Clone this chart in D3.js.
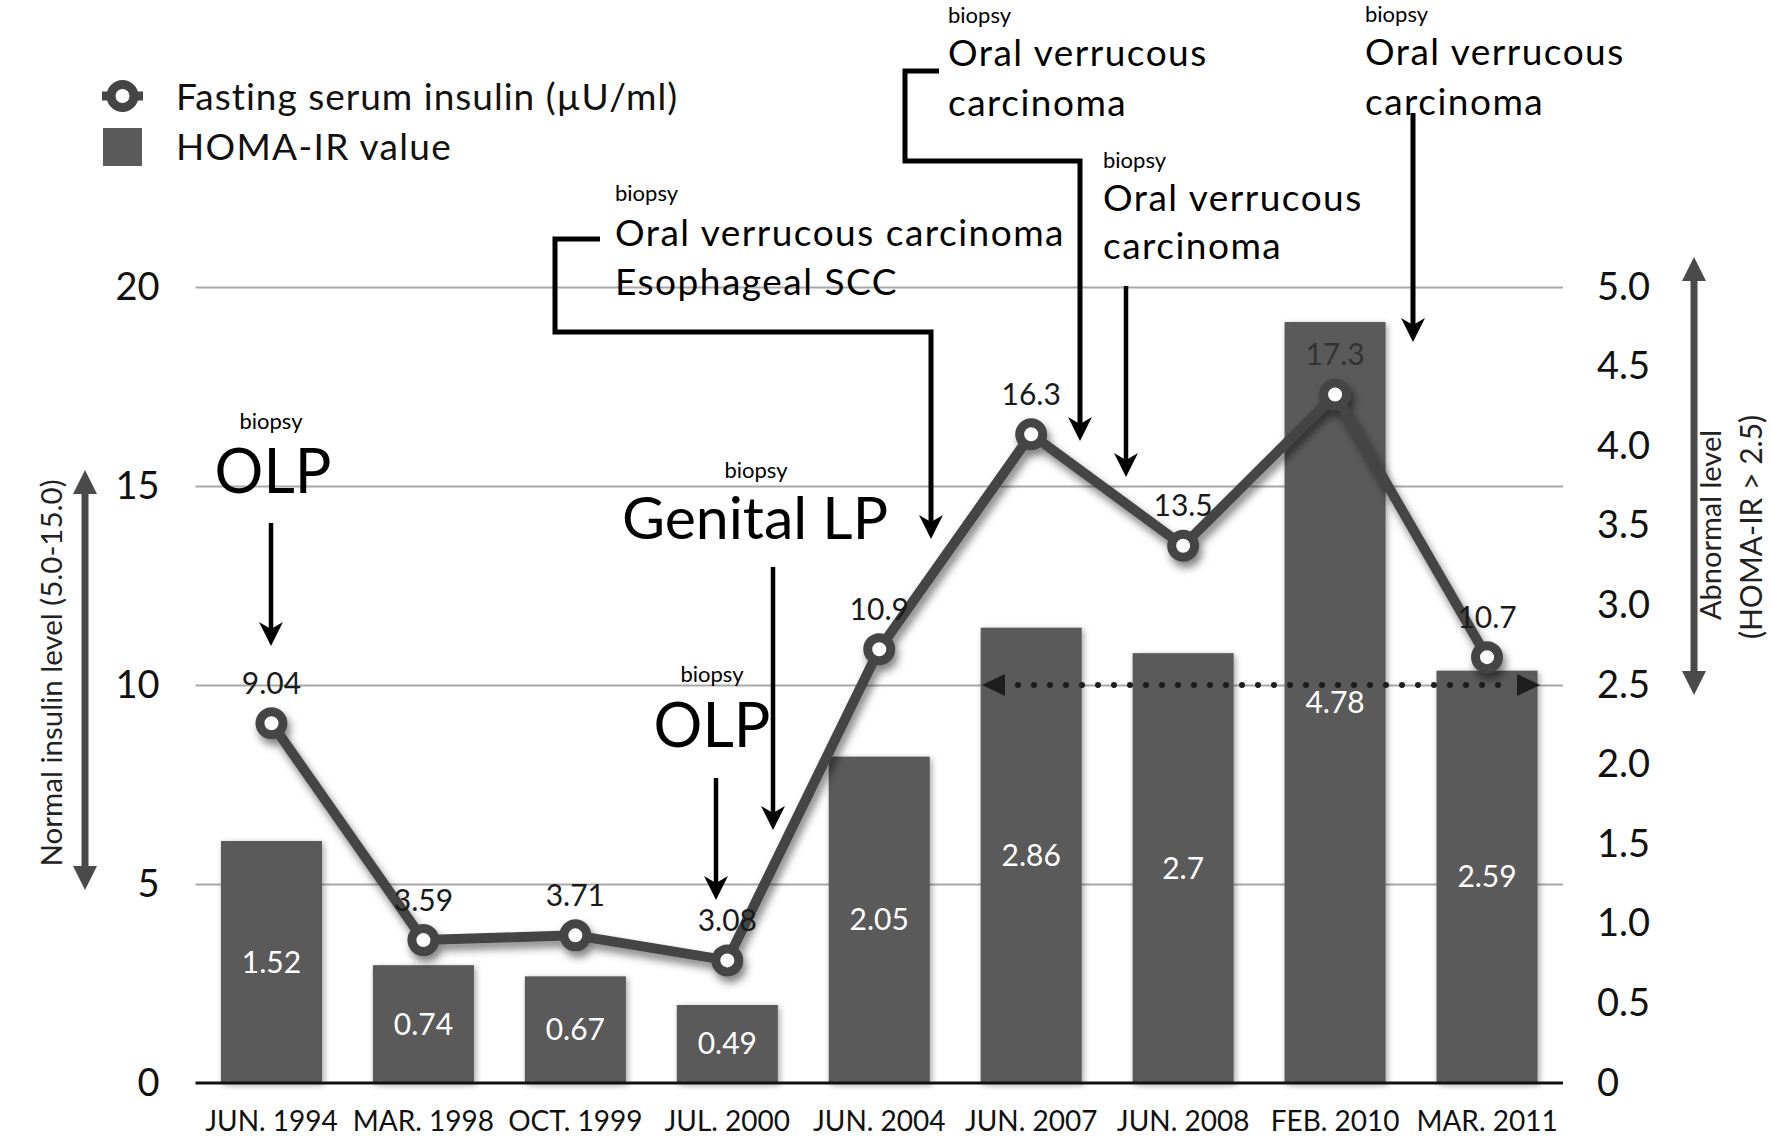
<!DOCTYPE html>
<html><head><meta charset="utf-8">
<script src="https://cdn.jsdelivr.net/npm/d3@7"></script>
<style>
body{margin:0;background:#fff}
svg{display:block}
text{font-family:Lato,"Open Sans","DejaVu Sans",sans-serif}
</style>
</head><body>
<svg id="chart" width="1772" height="1141"></svg>
<script>
// ---------- data ----------
const categories = ["JUN. 1994","MAR. 1998","OCT. 1999","JUL. 2000","JUN. 2004","JUN. 2007","JUN. 2008","FEB. 2010","MAR. 2011"];
const insulin = [9.04, 3.59, 3.71, 3.08, 10.9, 16.3, 13.5, 17.3, 10.7];
const insulinLabels = ["9.04","3.59","3.71","3.08","10.9","16.3","13.5","17.3","10.7"];
const homa = [1.52, 0.74, 0.67, 0.49, 2.05, 2.86, 2.7, 4.78, 2.59];
const homaLabels = ["1.52","0.74","0.67","0.49","2.05","2.86","2.7","4.78","2.59"];
const leftTicks = [0, 5, 10, 15, 20];
const rightTicks = [0, 0.5, 1.0, 1.5, 2.0, 2.5, 3.0, 3.5, 4.0, 4.5, 5.0];
const rightTickLabels = ["0","0.5","1.0","1.5","2.0","2.5","3.0","3.5","4.0","4.5","5.0"];
const normalInsulinRange = [5, 15];
const homaThreshold = 2.5;
const homaMax = 5.0;

// ---------- setup ----------
const svg = d3.select("#chart");
const X0 = 195.5, X1 = 1563, Y0 = 1083, Y1 = 287;

const x = d3.scaleBand().domain(categories).range([X0, X1]).paddingInner(0.335).paddingOuter(0.1675);
const yL = d3.scaleLinear().domain([0, 20]).range([Y0, Y1]);
const yR = d3.scaleLinear().domain([0, 5]).range([Y0, Y1]);
const cx = (i) => x(categories[i]) + x.bandwidth() / 2;

const defs = svg.append("defs");
const f1 = defs.append("filter").attr("id","shadowLine").attr("x","-20%").attr("y","-20%").attr("width","140%").attr("height","140%");
f1.append("feDropShadow").attr("dx",3).attr("dy",6).attr("stdDeviation",4).attr("flood-color","#000").attr("flood-opacity",0.5);
const f2 = defs.append("filter").attr("id","shadowBar").attr("x","-20%").attr("y","-20%").attr("width","140%").attr("height","140%");
f2.append("feDropShadow").attr("dx",2).attr("dy",2).attr("stdDeviation",3).attr("flood-color","#000").attr("flood-opacity",0.35);

// ---------- gridlines ----------
const grid = svg.append("g").attr("transform", `translate(${X0},0)`)
  .call(d3.axisLeft(yL).tickValues(leftTicks.filter(d => d > 0)).tickSize(-(X1 - X0)).tickFormat(""));
grid.select(".domain").remove();
grid.selectAll("line").attr("stroke", "#a8a8a8").attr("stroke-width", 2);

// ---------- left axis labels ----------
const la = svg.append("g").attr("transform", `translate(${X0},0)`)
  .call(d3.axisLeft(yL).tickValues(leftTicks).tickSize(0).tickPadding(36).tickFormat(d3.format("d")));
la.select(".domain").remove();
la.selectAll("text").attr("font-size", 38).attr("fill", "#111").style("font-family","Lato,sans-serif");

// ---------- right axis labels ----------
const ra = svg.append("g").attr("transform", `translate(${X1},0)`)
  .call(d3.axisRight(yR).tickValues(rightTicks).tickSize(0).tickPadding(34).tickFormat((d, i) => rightTickLabels[i]));
ra.select(".domain").remove();
ra.selectAll("text").attr("font-size", 38).attr("fill", "#111").style("font-family","Lato,sans-serif");

// ---------- bars ----------
svg.append("g").attr("filter","url(#shadowBar)").selectAll("rect").data(homa).join("rect")
  .attr("x", (d, i) => x(categories[i]))
  .attr("width", x.bandwidth())
  .attr("y", d => yR(d))
  .attr("height", d => Y0 - yR(d))
  .attr("fill", "#5a5a5a");

// baseline
svg.append("line").attr("x1", X0).attr("x2", X1).attr("y1", Y0).attr("y2", Y0)
  .attr("stroke", "#111").attr("stroke-width", 3);

// bar labels
svg.append("g").selectAll("text").data(homa).join("text")
  .attr("x", (d, i) => cx(i))
  .attr("y", d => (yR(d) + Y0) / 2)
  .attr("dy", "0.35em")
  .attr("text-anchor", "middle")
  .attr("font-size", 30)
  .attr("fill", "#fff")
  .text((d, i) => homaLabels[i]);

// ---------- x axis labels ----------
const xa = svg.append("g").attr("transform", `translate(0,${Y0})`)
  .call(d3.axisBottom(x).tickSize(0).tickPadding(28));
xa.select(".domain").remove();
xa.selectAll("text").attr("font-size", 28).attr("fill", "#111").style("font-family","Lato,sans-serif");

// ---------- dotted threshold line ----------
const ty = yR(homaThreshold);
const dotG = svg.append("g");
dotG.append("line").attr("x1", 1018).attr("x2", 1512).attr("y1", ty).attr("y2", ty)
  .attr("stroke", "#1e1e1e").attr("stroke-width", 6).attr("stroke-linecap", "round").attr("stroke-dasharray", "0 16");
dotG.append("path").attr("d", `M982,${ty} L1005,${ty-11} L1005,${ty+11} Z`).attr("fill", "#1e1e1e");
dotG.append("path").attr("d", `M1540,${ty} L1517,${ty-11} L1517,${ty+11} Z`).attr("fill", "#1e1e1e");

// ---------- insulin line ----------
const lineG = svg.append("g").attr("filter", "url(#shadowLine)");
lineG.append("path").datum(insulin)
  .attr("d", d3.line().x((d, i) => cx(i)).y(d => yL(d)))
  .attr("fill", "none").attr("stroke", "#454545").attr("stroke-width", 10).attr("stroke-linejoin", "round");
lineG.selectAll("circle").data(insulin).join("circle")
  .attr("cx", (d, i) => cx(i)).attr("cy", d => yL(d)).attr("r", 11.5)
  .attr("fill", "#fff").attr("stroke", "#454545").attr("stroke-width", 9);

svg.append("g").selectAll("text").data(insulin).join("text")
  .attr("x", (d, i) => cx(i))
  .attr("y", d => yL(d) - 40)
  .attr("dy", "0.35em")
  .attr("text-anchor", "middle")
  .attr("font-size", 30)
  .attr("fill", (d, i) => i === 7 ? "#333" : "#1a1a1a")
  .text((d, i) => insulinLabels[i]);

// ---------- legend ----------
const lg = svg.append("g");
lg.append("line").attr("x1", 102).attr("x2", 143).attr("y1", 96).attr("y2", 96).attr("stroke", "#454545").attr("stroke-width", 9);
lg.append("circle").attr("cx", 122.5).attr("cy", 96).attr("r", 11.5).attr("fill", "#fff").attr("stroke", "#454545").attr("stroke-width", 9);
lg.append("rect").attr("x", 103).attr("y", 128).attr("width", 39).attr("height", 38).attr("fill", "#5a5a5a");
lg.append("text").attr("x", 176).attr("y", 110).attr("font-size", 37).attr("letter-spacing", 1).attr("fill", "#111").text("Fasting serum insulin (µU/ml)");
lg.append("text").attr("x", 176).attr("y", 160).attr("font-size", 37).attr("letter-spacing", 1.3).attr("fill", "#111").text("HOMA-IR value");

// ---------- range double arrows ----------
function doubleArrow(xp, yTop, yBot, color) {
  const g = svg.append("g");
  g.append("line").attr("x1", xp).attr("x2", xp).attr("y1", yTop + 20).attr("y2", yBot - 20)
    .attr("stroke", color).attr("stroke-width", 7);
  g.append("path").attr("d", `M${xp},${yTop} L${xp-12},${yTop+24} L${xp+12},${yTop+24} Z`).attr("fill", color);
  g.append("path").attr("d", `M${xp},${yBot} L${xp-12},${yBot-24} L${xp+12},${yBot-24} Z`).attr("fill", color);
}
doubleArrow(85, yL(normalInsulinRange[1]) - 16, yL(normalInsulinRange[0]) + 6, "#4a4a4a");
doubleArrow(1694, yR(homaMax) - 30, yR(homaThreshold) + 10, "#4a4a4a");

svg.append("text").attr("transform", "translate(52,673) rotate(-90)")
  .attr("text-anchor", "middle").attr("dy", "0.35em").attr("font-size", 29.5).attr("fill", "#222")
  .text("Normal insulin level (5.0-15.0)");
svg.append("text").attr("transform", "translate(1711,525) rotate(-90)")
  .attr("text-anchor", "middle").attr("dy", "0.35em").attr("font-size", 29).attr("fill", "#222")
  .text("Abnormal level");
svg.append("text").attr("transform", "translate(1751,527) rotate(-90)")
  .attr("text-anchor", "middle").attr("dy", "0.35em").attr("font-size", 30).attr("fill", "#222")
  .text("(HOMA-IR > 2.5)");

// ---------- annotations ----------
const ann = svg.append("g");
function arrowHead(xp, yTip) {
  ann.append("path")
    .attr("d", `M${xp},${yTip} L${xp-12},${yTip-24} L${xp},${yTip-17} L${xp+12},${yTip-24} Z`)
    .attr("fill", "#000");
}
function vArrow(xp, yStart, yTip, w) {
  ann.append("line").attr("x1", xp).attr("x2", xp).attr("y1", yStart).attr("y2", yTip - 10)
    .attr("stroke", "#000").attr("stroke-width", w || 4.5);
  arrowHead(xp, yTip);
}
function label(xp, yp, txt, size, anchor, ls) {
  ann.append("text").attr("x", xp).attr("y", yp).attr("font-size", size)
    .attr("letter-spacing", ls || 0)
    .attr("text-anchor", anchor || "start").attr("fill", "#000").text(txt);
}

// OLP 1994
label(271, 429, "biopsy", 22, "middle");
label(273, 493, "OLP", 61, "middle");
vArrow(271, 523, 646);

// OLP 2000
label(712, 682, "biopsy", 22, "middle");
label(712, 747, "OLP", 61, "middle");
vArrow(716, 778, 900);

// Genital LP
label(756, 478, "biopsy", 22, "middle");
label(755, 539, "Genital LP", 59, "middle");
vArrow(773, 567, 830);

// Oral verrucous carcinoma / Esophageal SCC
label(615, 201, "biopsy", 22);
label(615, 246, "Oral verrucous carcinoma", 37, "start", 1.5);
label(615, 295, "Esophageal SCC", 37, "start", 1.5);
ann.append("path").attr("d", "M600,239 H555 V332 H931 V530").attr("fill", "none")
  .attr("stroke", "#000").attr("stroke-width", 5);
arrowHead(931, 539);

// top middle
label(948, 23, "biopsy", 22);
label(948, 66, "Oral verrucous", 37, "start", 1.5);
label(948, 116, "carcinoma", 37, "start", 1.5);
ann.append("path").attr("d", "M939,71 H905 V161 H1080 V432").attr("fill", "none")
  .attr("stroke", "#000").attr("stroke-width", 5);
arrowHead(1080, 441);

// middle
label(1103, 168, "biopsy", 22);
label(1103, 211, "Oral verrucous", 37, "start", 1.5);
label(1103, 259, "carcinoma", 37, "start", 1.5);
vArrow(1126, 286, 477);

// top right
label(1365, 22, "biopsy", 22);
label(1365, 65, "Oral verrucous", 37, "start", 1.5);
label(1365, 115, "carcinoma", 37, "start", 1.5);
vArrow(1413, 113, 342, 5);
</script>
</body></html>
